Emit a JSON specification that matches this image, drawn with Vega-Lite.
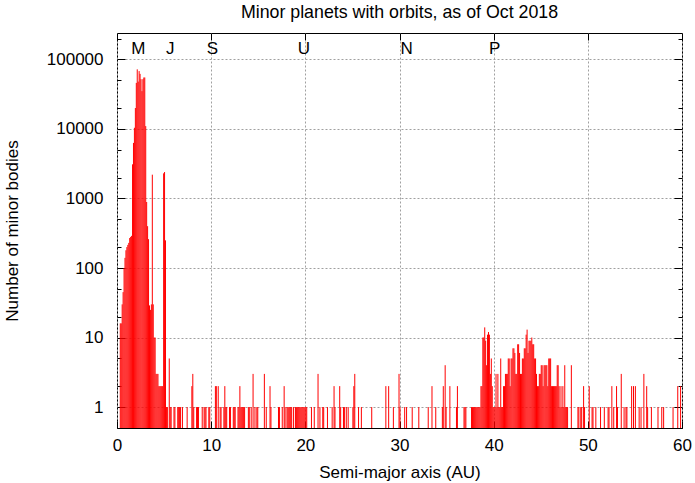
{
  "$schema": "https://vega.github.io/schema/vega-lite/v6.json",
  "autosize": "none",
  "width": 565,
  "height": 395,
  "padding": {"left": 117, "top": 33, "right": 13, "bottom": 55},
  "background": "white",
  "config": {
    "font": "Liberation Sans",
    "view": {"stroke": "black", "strokeWidth": 1},
    "axis": {"labelColor": "black", "titleColor": "black", "tickColor": "black", "domain": false, "labelFontSize": 17, "titleFontSize": 17, "titleFontWeight": "normal", "labelFont": "Liberation Sans", "titleFont": "Liberation Sans"}
  },
  "title": {"text": "Minor planets with orbits, as of Oct 2018", "fontSize": 17.8, "fontWeight": "normal", "font": "Liberation Sans", "color": "black", "offset": 11},
  "resolve": {"axis": {"x": "independent", "y": "independent"}},
  "layer": [
    {
      "data": {"values": [
        {"a":0.35,"n":16},{"a":0.45,"n":16},{"a":0.55,"n":30},{"a":0.65,"n":45},{"a":0.75,"n":100},{"a":0.85,"n":140},{"a":0.95,"n":180},{"a":1.05,"n":200},{"a":1.15,"n":215},{"a":1.25,"n":230},{"a":1.35,"n":270},{"a":1.45,"n":280},{"a":1.55,"n":290},{"a":1.65,"n":3100},{"a":1.75,"n":6300},{"a":1.85,"n":10400},{"a":1.95,"n":20000},{"a":2.05,"n":46000},{"a":2.15,"n":72000},{"a":2.25,"n":48000},{"a":2.35,"n":68000},{"a":2.45,"n":62000},{"a":2.55,"n":52000},{"a":2.65,"n":35000},{"a":2.75,"n":52000},{"a":2.85,"n":55000},{"a":2.95,"n":55000},{"a":3.05,"n":11000},{"a":3.15,"n":890},{"a":3.25,"n":400},{"a":3.35,"n":260},{"a":3.45,"n":29},{"a":3.55,"n":25},{"a":3.65,"n":30},{"a":3.75,"n":2200},{"a":3.85,"n":30},{"a":3.95,"n":10},{"a":4.05,"n":10},{"a":4.15,"n":3},{"a":4.25,"n":3},{"a":4.35,"n":3},{"a":4.45,"n":2},{"a":4.55,"n":2},{"a":4.65,"n":2},{"a":4.75,"n":2},{"a":4.85,"n":2},{"a":4.95,"n":2300},{"a":5.05,"n":2400},{"a":5.15,"n":250},{"a":5.25,"n":1},{"a":5.35,"n":1},{"a":5.55,"n":5},{"a":5.65,"n":1},{"a":5.75,"n":1},
        {"a":6.05,"n":1},{"a":6.15,"n":1},{"a":6.45,"n":1},{"a":6.55,"n":1},{"a":6.65,"n":1},{"a":6.75,"n":1},{"a":6.95,"n":1},{"a":7.45,"n":1},{"a":7.95,"n":2},{"a":8.05,"n":3},{"a":8.15,"n":1},{"a":8.45,"n":1},{"a":8.55,"n":1},{"a":8.65,"n":1},{"a":9.05,"n":1},{"a":9.25,"n":1},{"a":9.35,"n":1},{"a":9.45,"n":1},{"a":9.75,"n":1},{"a":9.85,"n":1},{"a":10.45,"n":2},{"a":10.55,"n":2},{"a":10.75,"n":2},{"a":10.95,"n":1},{"a":11.05,"n":1},{"a":11.35,"n":1},{"a":11.45,"n":2},{"a":11.55,"n":1},{"a":11.65,"n":1},{"a":11.95,"n":1},{"a":12.05,"n":1},{"a":12.35,"n":1},{"a":12.45,"n":1},{"a":12.55,"n":1},{"a":12.85,"n":1},{"a":12.95,"n":1},{"a":13.05,"n":2},{"a":13.15,"n":1},{"a":13.25,"n":1},{"a":13.35,"n":1},{"a":13.45,"n":1},{"a":13.55,"n":1},{"a":13.95,"n":1},{"a":14.05,"n":1},{"a":14.25,"n":1},{"a":14.45,"n":3},{"a":14.65,"n":1},{"a":14.85,"n":1},{"a":14.95,"n":1},{"a":15.65,"n":3},{"a":15.85,"n":1},{"a":16.25,"n":2},{"a":16.35,"n":1},{"a":17.15,"n":1},{"a":17.25,"n":1},{"a":17.55,"n":1},{"a":17.75,"n":2},{"a":17.85,"n":1},{"a":18.05,"n":1},{"a":18.15,"n":1},{"a":18.25,"n":1},{"a":18.35,"n":1},{"a":18.45,"n":1},{"a":18.55,"n":1},{"a":18.75,"n":1},{"a":18.95,"n":1},{"a":19.05,"n":1},{"a":19.15,"n":1},{"a":19.25,"n":1},{"a":19.35,"n":1},{"a":19.45,"n":1},{"a":19.55,"n":1},{"a":19.65,"n":1},{"a":19.75,"n":1},{"a":19.85,"n":1},{"a":19.95,"n":1},{"a":20.05,"n":1},{"a":20.15,"n":1},
        {"a":20.65,"n":1},{"a":20.95,"n":1},{"a":21.35,"n":3},{"a":21.55,"n":1},{"a":21.85,"n":1},{"a":21.95,"n":1},{"a":22.35,"n":1},{"a":22.85,"n":1},{"a":23.05,"n":2},{"a":23.15,"n":1},{"a":23.65,"n":2},{"a":23.75,"n":1},{"a":24.05,"n":1},{"a":24.15,"n":1},{"a":24.35,"n":1},{"a":24.55,"n":1},{"a":25.05,"n":1},{"a":25.15,"n":2},{"a":25.25,"n":3},{"a":25.65,"n":1},{"a":25.95,"n":1},{"a":27.05,"n":1},{"a":28.55,"n":2},{"a":28.85,"n":2},{"a":29.35,"n":1},{"a":29.95,"n":3},{"a":30.05,"n":1},{"a":30.55,"n":1},{"a":30.75,"n":1},{"a":31.35,"n":1},{"a":32.05,"n":1},{"a":33.05,"n":1},{"a":33.45,"n":2},{"a":33.85,"n":1},{"a":34.55,"n":1},{"a":34.65,"n":2},{"a":34.85,"n":4},{"a":34.95,"n":1},{"a":35.35,"n":2},{"a":36.05,"n":1},{"a":36.15,"n":2},{"a":36.85,"n":1},{"a":36.95,"n":1},{"a":37.05,"n":1},{"a":37.65,"n":1},{"a":37.75,"n":1},{"a":37.85,"n":1},{"a":37.95,"n":1},
        {"a":38.05,"n":1},{"a":38.15,"n":1},{"a":38.25,"n":1},{"a":38.35,"n":1},{"a":38.45,"n":1},{"a":38.55,"n":1},{"a":38.65,"n":2},{"a":38.75,"n":2},{"a":38.85,"n":10},{"a":38.95,"n":10},{"a":39.05,"n":14},{"a":39.15,"n":9},{"a":39.25,"n":4},{"a":39.35,"n":11},{"a":39.45,"n":12},{"a":39.55,"n":11},{"a":39.65,"n":3},{"a":39.75,"n":5},{"a":39.85,"n":2},{"a":39.95,"n":1},{"a":40.05,"n":1},{"a":40.15,"n":1},{"a":40.25,"n":3},{"a":40.35,"n":1},{"a":40.45,"n":3},{"a":40.55,"n":1},{"a":40.65,"n":1},{"a":40.75,"n":5},{"a":40.85,"n":1},{"a":40.95,"n":1},{"a":41.05,"n":2},{"a":41.15,"n":2},{"a":41.25,"n":3},{"a":41.35,"n":3},{"a":41.45,"n":3},{"a":41.55,"n":5},{"a":41.65,"n":5},{"a":41.75,"n":2},{"a":41.85,"n":5},{"a":41.95,"n":5},{"a":42.05,"n":7},{"a":42.15,"n":7},{"a":42.25,"n":6},{"a":42.35,"n":3},{"a":42.45,"n":3},{"a":42.55,"n":8},{"a":42.65,"n":8},{"a":42.75,"n":6},{"a":42.85,"n":3},{"a":42.95,"n":3},{"a":43.05,"n":5},{"a":43.15,"n":5},{"a":43.25,"n":7},{"a":43.35,"n":7},{"a":43.45,"n":11},{"a":43.55,"n":13},{"a":43.65,"n":6},{"a":43.75,"n":9},{"a":43.85,"n":9},{"a":43.95,"n":9},{"a":44.05,"n":10},{"a":44.15,"n":8},{"a":44.25,"n":8},{"a":44.35,"n":5},{"a":44.45,"n":5},{"a":44.55,"n":3},{"a":44.65,"n":2},{"a":44.75,"n":2},{"a":44.85,"n":3},{"a":44.95,"n":3},{"a":45.05,"n":4},{"a":45.15,"n":4},{"a":45.25,"n":2},{"a":45.35,"n":4},{"a":45.45,"n":4},{"a":45.55,"n":4},{"a":45.65,"n":4},{"a":45.75,"n":2},{"a":45.85,"n":5},{"a":45.95,"n":5},{"a":46.05,"n":5},{"a":46.15,"n":2},{"a":46.25,"n":2},{"a":46.35,"n":2},{"a":46.45,"n":2},{"a":46.55,"n":2},{"a":46.65,"n":2},{"a":46.75,"n":4},{"a":46.85,"n":4},{"a":46.95,"n":2},{"a":47.05,"n":1},{"a":47.15,"n":2},{"a":47.25,"n":1},{"a":47.35,"n":2},{"a":47.45,"n":1},{"a":47.55,"n":4},{"a":47.65,"n":1},{"a":47.75,"n":1},{"a":47.85,"n":1},{"a":48.25,"n":4},
        {"a":48.95,"n":1},{"a":49.05,"n":1},{"a":49.25,"n":1},{"a":49.35,"n":1},{"a":49.55,"n":2},{"a":49.65,"n":1},{"a":50.15,"n":2},{"a":50.45,"n":1},{"a":50.55,"n":1},{"a":50.85,"n":1},{"a":51.35,"n":1},{"a":51.75,"n":1},{"a":52.15,"n":1},{"a":52.25,"n":1},{"a":52.55,"n":2},{"a":52.75,"n":1},{"a":53.05,"n":2},{"a":53.15,"n":1},{"a":53.55,"n":3},{"a":53.85,"n":1},{"a":54.05,"n":1},{"a":54.15,"n":1},{"a":54.65,"n":2},{"a":54.85,"n":2},{"a":55.05,"n":2},{"a":55.45,"n":1},{"a":55.65,"n":1},{"a":55.95,"n":3},{"a":56.25,"n":2},{"a":56.35,"n":1},{"a":56.75,"n":1},{"a":57.45,"n":1},{"a":57.85,"n":1},{"a":58.05,"n":1},{"a":59.05,"n":1},{"a":59.55,"n":2},{"a":59.85,"n":2}
      ]},
      "mark": {"type": "rule", "color": "#ff0000", "strokeWidth": 1, "clip": true},
      "encoding": {
        "x": {"field": "a", "type": "quantitative",
          "scale": {"domain": [0, 60], "nice": false, "zero": false},
          "axis": {"orient": "bottom", "values": [0,10,20,30,40,50,60], "title": "Semi-major axis (AU)", "tickSize": -7, "labelPadding": 16, "titlePadding": 11, "grid": true, "gridColor": "#a0a0a0", "gridDash": [2, 2], "labelFlush": false}},
        "y": {"field": "n", "type": "quantitative",
          "scale": {"type": "log", "domain": [0.5, 240000], "nice": false},
          "axis": {"orient": "left", "title": "Number of minor bodies", "titlePadding": 25,
            "values": [0.5,1,2,5,10,20,50,100,200,500,1000,2000,5000,10000,20000,50000,100000,200000],
            "labelExpr": "abs(log(datum.value)/LN10 - round(log(datum.value)/LN10)) < 0.001 ? format(datum.value, 'd') : ''",
            "tickSize": {"condition": {"test": "abs(log(datum.value)/LN10 - round(log(datum.value)/LN10)) < 0.001", "value": -8}, "value": -4},
            "gridOpacity": {"condition": {"test": "abs(log(datum.value)/LN10 - round(log(datum.value)/LN10)) < 0.001", "value": 1}, "value": 0},
            "grid": true, "gridColor": "#a0a0a0", "gridDash": [2, 2], "labelPadding": 22}},
        "y2": {"datum": 0.5}
      }
    },
    {
      "data": {"values": [
        {"a": 1.52, "y": 140000, "t": "M"},
        {"a": 5.2, "y": 140000, "t": "J"},
        {"a": 9.54, "y": 140000, "t": "S"},
        {"a": 19.2, "y": 140000, "t": "U"},
        {"a": 30.1, "y": 140000, "t": "N"},
        {"a": 39.5, "y": 140000, "t": "P"}
      ]},
      "mark": {"type": "text", "align": "left", "baseline": "middle", "fontSize": 17, "font": "Liberation Sans", "color": "black"},
      "encoding": {
        "x": {"field": "a", "type": "quantitative",
          "axis": {"orient": "top", "values": [0,10,20,30,40,50,60], "labels": false, "title": null, "tickSize": -7, "grid": false}},
        "y": {"field": "y", "type": "quantitative",
          "axis": {"orient": "right", "labels": false, "title": null, "grid": false,
            "values": [0.5,1,2,5,10,20,50,100,200,500,1000,2000,5000,10000,20000,50000,100000,200000],
            "tickSize": {"condition": {"test": "abs(log(datum.value)/LN10 - round(log(datum.value)/LN10)) < 0.001", "value": -8}, "value": -4}}},
        "text": {"field": "t"}
      }
    }
  ]
}
